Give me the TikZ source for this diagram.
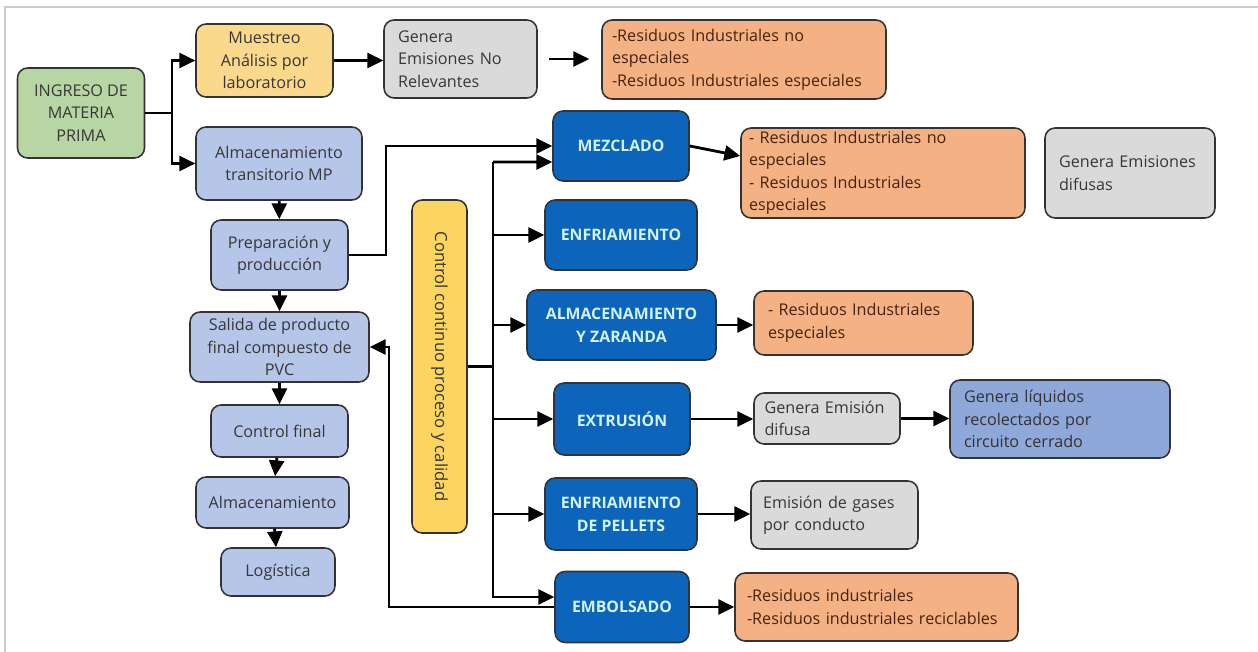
\documentclass[tikz,border=0pt]{standalone}
\usepackage{fontspec}
\setmainfont{Open Sans}
\usetikzlibrary{arrows.meta}
\definecolor{verde}{RGB}{183,214,163}
\definecolor{amar}{RGB}{251,217,140}
\definecolor{amarctl}{RGB}{252,212,96}
\definecolor{gris}{RGB}{218,218,218}
\definecolor{naranja}{RGB}{244,178,132}
\definecolor{celeste}{RGB}{181,198,232}
\definecolor{azul}{RGB}{12,101,186}
\definecolor{azulclaro}{RGB}{142,168,218}
\definecolor{cian}{RGB}{210,242,252}
\definecolor{texto}{RGB}{55,55,55}
\definecolor{marron}{RGB}{70,35,15}
\begin{document}
\begin{tikzpicture}[x=0.02cm,y=-0.02cm,
    font=\fontsize{9.2}{12.8}\selectfont,
    box/.style={draw=black!80,line width=0.9pt,rounded corners=0.2cm,text=texto,align=center,inner sep=0pt},
    lft/.style={box,align=left,inner xsep=0.28cm},
    blk/.style={box,fill=azul,text=cian,font=\fontsize{9}{13}\selectfont\bfseries},
    res/.style={lft,fill=naranja,text=marron},
    line/.style={line width=1.6pt},
    arr/.style={line,-{Triangle[length=9pt,width=8.5pt]}}]
    \useasboundingbox (0,0) rectangle (1258,652);
    \draw[black!20,line width=1pt] (5,652) -- (5,7) -- (1258,7);
    \node[box,fill=verde,minimum width=2.54cm,minimum height=1.8cm](ing)at(81,113){INGRESO DE\\MATERIA\\PRIMA};
    \node[box,fill=amar,minimum width=2.74cm,minimum height=1.46cm](mue)at(264.5,60.5){Muestreo\\Análisis por\\laboratorio};
    \node[lft,fill=gris,minimum height=1.56cm,text width=2.5cm](gnr)at(460.5,59){Genera\\Emisiones No\\Relevantes};
    \node[res,inner xsep=0.2cm,minimum height=1.58cm,text width=5.28cm](resA)at(744,59.5){-Residuos Industriales no\\especiales\\-Residuos Industriales especiales};
    \node[box,fill=celeste,minimum width=3.32cm,minimum height=1.46cm](almT)at(279,163.5){Almacenamiento\\transitorio MP};
    \node[box,fill=celeste,minimum width=2.74cm,minimum height=1.4cm](prep)at(279.5,255){Preparación y\\producción};
    \node[box,fill=celeste,minimum width=3.58cm,minimum height=1.4cm](sal)at(279.5,347){Salida de producto\\final compuesto de\\PVC};
    \node[box,fill=celeste,minimum width=2.74cm,minimum height=1.04cm](cfin)at(279.5,431){Control final};
    \node[box,fill=celeste,minimum width=3.06cm,minimum height=1.02cm](alm)at(272.5,502.5){Almacenamiento};
    \node[box,fill=celeste,minimum width=2.28cm,minimum height=0.96cm](log)at(278,572){Logística};
    \node[box,fill=amarctl,rotate=-90,minimum width=6.66cm,minimum height=1.1cm,font=\fontsize{9.5}{12}\selectfont](ctl)at(439.5,366.5){Control continuo proceso y calidad};
    \node[blk,minimum width=2.72cm,minimum height=1.4cm](mez)at(621,146){MEZCLADO};
    \node[blk,minimum width=3.04cm,minimum height=1.4cm](enf)at(621,235){ENFRIAMIENTO};
    \node[blk,minimum width=3.78cm,minimum height=1.4cm](almz)at(621.5,325){ALMACENAMIENTO\\Y ZARANDA};
    \node[blk,minimum width=2.72cm,minimum height=1.44cm](ext)at(622,419){EXTRUSIÓN};
    \node[blk,minimum width=3.04cm,minimum height=1.44cm](pel)at(621,514){ENFRIAMIENTO\\DE PELLETS};
    \node[blk,minimum width=2.68cm,minimum height=1.42cm](emb)at(622,607){EMBOLSADO};
    \node[res,inner xsep=0.16cm,minimum height=1.8cm,text width=5.36cm](resB)at(883,173){- Residuos Industriales no\\especiales\\- Residuos Industriales\\especiales};
    \node[lft,fill=gris,minimum height=1.8cm,text width=2.84cm](gdifB)at(1130,173){Genera Emisiones\\difusas};
    \node[res,minimum height=1.28cm,text width=3.82cm](resC)at(863.5,323){- Residuos Industriales\\especiales};
    \node[lft,fill=gris,inner xsep=0.21cm,minimum height=1.02cm,text width=2.5cm](gdif)at(827,418.5){Genera Emisión\\difusa};
    \node[lft,fill=azulclaro,minimum height=1.56cm,text width=3.84cm,text=black!80](liq)at(1060,419){Genera líquidos\\recolectados por\\circuito cerrado};
    \node[lft,fill=gris,inner xsep=0.24cm,minimum height=1.36cm,text width=2.86cm](gas)at(834.5,515){Emisión de gases\\por conducto};
    \node[res,inner xsep=0.24cm,minimum height=1.36cm,text width=5.18cm](resD)at(876.5,607){-Residuos industriales\\-Residuos industriales reciclables};
    \coordinate(fk)at(172,113);
    \coordinate(pk)at(386,147);
    \coordinate(bus)at(493,162);
    \coordinate(fb)at(389,606);
    \draw[line](ing.east)--(fk);
    \draw[arr](fk)|-(mue.west);
    \draw[arr](fk)|-(almT.west);
    \draw[arr](mue.east)--(mue.east-|gnr.west);
    \draw[arr,shorten <=0.22cm,shorten >=0.24cm](gnr.east)--(gnr.east-|resA.west);
    \foreach \a/\b in {almT/prep,prep/sal,sal/cfin,cfin/alm,alm/log}
      \draw[arr](\a)--(\b);
    \draw[arr](prep.east)--(prep.east-|pk)|-(mez.west);
    \draw[arr](bus)--([yshift=-0.32cm]mez.west);
    \draw[arr](bus)|-([yshift=0.2cm]emb.west);
    \foreach \n in {enf,almz,ext,pel}
      \draw[arr](bus|-\n)--(\n.west);
    \draw[line](ctl.north)--(ctl.north-|bus);
    \draw[arr](emb.west)--(emb.west-|fb)|-(sal.east);
    \draw[arr](mez.east)--([yshift=0.34cm]resB.west);
    \foreach \a/\b in {almz/resC,ext/gdif,gdif/liq,pel/gas,emb/resD}
      \draw[arr](\a.east)--(\a.east-|\b.west);
\end{tikzpicture}
\end{document}
